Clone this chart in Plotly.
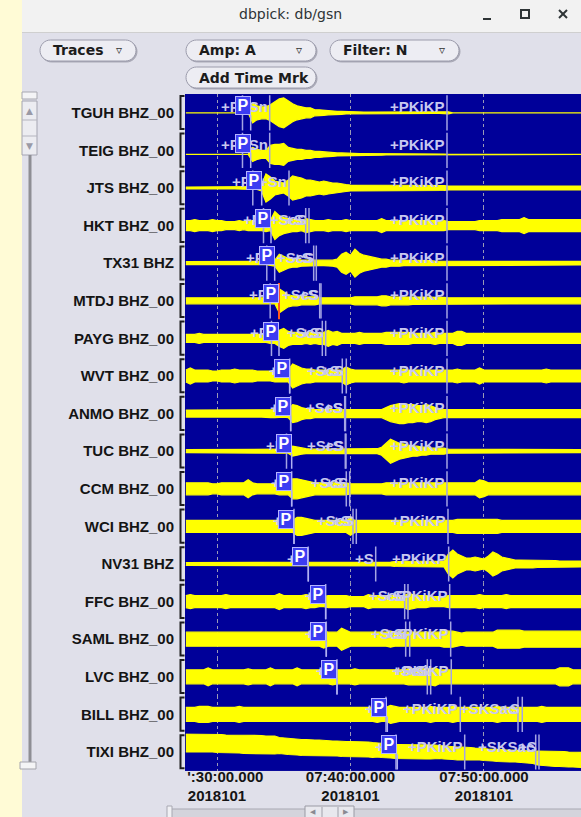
import plotly.graph_objects as go

W, H = 581, 817

# ---------------- data ----------------
STATIONS = ["TGUH BHZ_00", "TEIG BHZ_00", "JTS BHZ_00", "HKT BHZ_00", "TX31 BHZ",
            "MTDJ BHZ_00", "PAYG BHZ_00", "WVT BHZ_00", "ANMO BHZ_00", "TUC BHZ_00",
            "CCM BHZ_00", "WCI BHZ_00", "NV31 BHZ", "FFC BHZ_00", "SAML BHZ_00",
            "LVC BHZ_00", "BILL BHZ_00", "TIXI BHZ_00"]

# time in seconds after 07:30:00 (day 2018101); envelope samples every 20 s
SAMPLE_T0 = -140
SAMPLE_DT = 20

AMP_TGUH = [0,0,0,0,0,0,0,0,0,0, 0,0,0,0,0,10,7,6,6,8, 11,14,15,12,9,7,6,5,5,3,
            3,2.5,2,2,1.5,1.5,1.2,1,0.7,0.7, 0.7,0.7,0.7,0.7,0.7,0.5,0.5,0.5,0.5,0.5,
            0.5,0.5,0.5,0.5,0.5,0.5,0.5,0.5,0.5,1, 0,0,0,0,0,0,0,0,0,0,
            0,0,0,0,0,0,0,0,0,0, 0,0,0,0,0,0,0,0,0,0]
AMP_TEIG = [0,0,0,0,0,0,0,0,0,0, 0,0,0,0,0,7,5,4,4,9, 10,10,11,7,6,5,5,4,4,3,
            3,2.5,2,2,1.5,1.5,1.2,1,0.8,0.8, 0.8,0.8,0.8,0.8,0.8,0.6,0.6,0.6,0.6,0.6,
            0.6,0.6,0.6,0.4,0.4,0.4,0.4,0.4,0.4,0, 0,0,0,0,0,0,0,0,0,0,
            0,0,0,0,0,0,0,0,0,0, 0,0,0,0,0,0,0,0,0,0]
AMP_JTS = [1,1,1,1,1,1,1,1,1,1, 1,1,1,1.2,1.2,1.5,1.5,3,14,11, 7,6,5,8,12,11,10,8,8,7,
           6,7,6,5,5,4,3.5,3,3,2.5, 3,2.5,3,2.5,3,3,2.5,3,2.5,3,
           2.5,3,2.5,3,2.5,2.5,3,2.5,2.5,2, 2,2,2,1.5,2,2,2,1.5,2,2,
           2,1.5,2,2,2,1.5,2,2,2,2, 1.5,2,2,2,1.5,2,2,2,2,2]
AMP_HKT = [5,5,6,5,5,5,6,5,5,4, 4,4,5,4,5,5,5,5,6,5, 14,10,8,7,6,6,5,7,6,5,
           5,5,6,5,5,5,6,5,5,5, 5,5,5,5,7,5,5,5,5,5, 5,5,5,5,5,5,5,5,5,4,
           4,4,4,4,4,4,5,5,5,5, 5,6,6,6,6,6,8,6,6,6, 6,6,6,6,6,6,6,6,6,6]
AMP_TX31 = [1.5,1.5,1.5,1.5,1.5,1.5,1.5,1.5,1.5,1.5, 1.5,1.5,1.5,1.5,1.5,1.5,1.5,1.5,1.5,2,
            3,9,7,5,4,4,3,3,3,2.5, 2.5,2.5,2.5,3,4,9,11,8,14,10,
            8,7,6,5,4,4,3,3,3,2.5, 2.5,2.5,2.5,2.5,2.5,2.5,2,2,2,2,
            2,2,2,2,2,2,2,2,2,2, 1.8,1.8,1.8,1.8,1.8,1.8,1.8,1.8,1.8,1.8,
            1.8,1.8,1.8,1.8,1.8,1.8,1.8,1.8,1.8,1.8]
AMP_MTDJ = [3,3,2.5,3,3,3,2.5,3,3,3, 3,3,3,2.5,3,3,3,3,3,3, 3,12,9,6,5,5,4,4,4,4,
            3,3,3,3,3,3,3,3,4,4, 4,4,4,4,5,5,4,4,4,4, 4,3.5,3.5,3.5,3.5,3.5,3.5,3.5,3.5,3,
            3,3,3,3,3,3,3,3,3,3, 3,3,3,3,3,3,3,3,3,3, 3,3,3,3,3,3,3,3,3,3]
AMP_PAYG = [4,4,4,5,4,4,4,4,4,4, 4,4,4,4,4,4,4,4,4,5, 5,8,10,7,6,6,6,5,6,5,
            6,6,8,6,7,5,5,5,5,6, 5,5,5,5,5,6,6,6,6,6, 6,5,5,5,5,5,6,5,5,5,
            5,7,7,5,5,5,5,5,5,5, 5,5,5,5,5,5,5,5,5,5, 5,5,5,5,5,5,5,5,5,5]
AMP_WVT = [6,8,6,6,6,6,5,5,6,6, 6,7,6,6,6,6,5,5,5,5, 6,6,6,6,12,10,8,7,7,6,
           6,6,6,6,6,6,9,7,6,6, 6,6,6,6,6,6,6,6,6,7, 6,6,6,6,6,6,6,6,6,6,
           6,7,6,6,6,6,8,6,6,6, 6,6,6,6,6,6,6,6,6,6, 6,7,6,6,6,6,6,6,6,6]
AMP_ANMO = [3.5,3.5,3.5,3.5,3.5,3.5,3.5,3.5,3.5,3.5, 3.5,3.5,3.5,3.5,3.5,3.5,3.5,3.5,3.5,4,
            4,4,3.5,4,9,8,6,5,5,4, 4,4,4,4,4,4,4,4,4,4, 4,4,4,4,4,6,8,9,10,10,
            9,9,8,8,9,8,6,5,4,4, 4,4,4,4,4,4,4,4,4,4, 4,4,4,4,4,4,4,4,4,4,
            4,4,4,4,4,4,4,4,4,4]
AMP_TUC = [1.5,1.5,1.5,1.5,1.5,1.5,1.5,1.5,1.5,1.5, 1.5,1.5,1.5,1.5,1.5,1.5,1.5,1.5,1.5,1.5,
           1.5,1.5,2,2,5,4,3,2.5,2,2, 2,2,2,2,2,2,2,2.5,2.5,2.5,
           2.5,2.5,2.5,2.5,4,8,12,10,8,7, 6,5,5,4,4,3,3,3,3,2,
           2,2,2,2,2,2,2,1.5,1.5,1.5, 1.5,1.5,1.5,1.5,1.5,1.5,1.5,1.5,1.5,1.5,
           1.5,1.5,1.5,1.5,1.5,1.5,1.5,1.5,1.5,1.5]
AMP_CCM = [6,6,6,6,6,6,5,5,6,6, 6,6,6,6,9,6,5,5,5,5, 5,6,6,6,10,10,9,8,7,6,
           6,6,6,6,6,6,6,5,5,5, 5,5,5,5,5,6,6,6,6,6, 6,6,6,6,6,6,6,6,6,6,
           6,6,6,6,6,6,9,8,6,6, 6,6,6,6,6,6,6,6,6,6, 6,6,6,6,6,6,6,6,6,6]
AMP_WCI = [6,6,6,6,6,6,6,6,6,6, 6,6,6,6,6,6,6,6,6,6, 6,6,6,6,6,9,9,8,7,6,
           6,6,6,6,6,6,6,9,6,6, 6,6,6,6,6,6,6,6,6,6, 6,6,6,6,6,6,6,6,6,6,
           6,7,7,7,7,7,7,7,7,7, 7,6,6,6,6,6,6,6,6,6, 6,6,6,6,6,6,6,6,6,6]
AMP_NV31 = [1.5,1.5,1.5,1.5,1.5,1.5,1.5,1.5,1.5,1.5, 1.5,1.5,1.5,1.5,1.5,1.5,1.5,1.5,1.5,1.5,
            1.5,1.5,1.5,1.5,1.5,1.5,1.5,1.5,2,2, 1.5,1.5,1.5,1.5,1.5,1.5,1.5,1.5,1.5,2,
            2,2,2,2,2,2,2,2.5,2.5,2.5, 2.5,2.5,2.5,3,3,3,3,3,3,10,
            14,10,8,6,6,7,6,5,8,12, 10,7,6,5,4,4,4,4,4,3.5,
            3.5,3.5,3.5,3.5,3,3,3,3,3,3]
AMP_FFC = [6,7,6,6,6,6,6,6,6,7, 6,6,6,6,6,6,6,6,6,6, 6,8,6,6,6,6,6,7,6,6,
           5,5,6,6,6,6,6,5,5,5, 5,7,6,6,6,6,6,6,6,6, 8,7,6,6,6,5,5,5,5,6,
           6,6,6,6,6,6,7,6,6,6, 6,6,7,6,6,6,6,6,6,6, 6,6,6,6,6,6,6,6,6,6]
AMP_SAML = [7,7,7,7,7,7,7,7,7,7, 7,7,7,7,7,7,7,7,7,7, 7,7,7,7,7,7,7,7,7,7,
            7,9,7,7,7,11,9,7,7,7, 7,7,7,7,7,7,8,7,7,7, 7,7,7,7,7,7,7,7,8,8,
            8,7,6,7,7,7,7,7,7,7, 9,9,9,9,9,9,8,8,8,8, 8,8,8,8,8,8,8,8,8,8]
AMP_LVC = [7,7,7,7,7,9,7,7,7,7, 7,7,7,7,8,7,7,7,7,9, 7,7,7,7,7,9,7,7,7,7,
           7,7,7,8,7,7,7,7,8,7, 7,7,7,7,7,7,7,7,7,7, 8,8,8,8,8,8,9,7,7,7,
           7,7,7,7,7,7,7,7,7,7, 7,7,7,7,7,7,7,7,7,7, 7,7,7,7,9,9,9,7,7,7]
AMP_BILL = [7,7,7,8,8,8,7,7,7,7, 7,7,8,7,7,7,7,7,7,7, 7,7,7,7,7,7,7,7,7,7,
            7,7,7,7,7,7,7,7,7,7, 7,7,7,8,7,7,9,8,7,7, 7,7,7,7,7,8,7,7,7,7,
            8,7,7,7,7,7,7,7,7,7, 8,7,7,7,7,7,7,7,7,7, 8,7,7,7,7,7,7,7,7,7]
AMP_TIXI = [9,9,9,9,9,9,9,9,9,9, 9,9,9,9,9,9,9,9,9,9, 9,8,8,8,8,8,8,8,8,8,
            8,7.5,7.5,7.5,7.5,7.5,7.5,7.5,7.5,7.5, 7.5,7.5,7.5,7,7,7,7,7,7,7,
            7,7,7,7,7,7,7,6.5,6.5,6.5, 6.5,6.5,6.5,6.5,6.5,6,6,6,6,6,
            6,6,6,6,6,6,6,6,6,7, 7,7.5,7.5,7.5,7.5,7.5,7.5,7.5,7.5,7.5]
# long-period drift of the TIXI trace centre (upwards positive)
TIXI_DRIFT = [9,9,9,9,9,9,9,8.5,8.5,8, 8,8,8,7.5,7.5,7.5,7.5,7.5,7,7,
              7,6.5,6,5.5,5,5,4.5,4.5,4,4, 4,4,3.5,3.5,3.5,3,3,3,3,2.5,
              2.5,2.5,2,2,1.5,1,1,0.5,0.5,0.5, 0,0,0,0,0,0,0,0,-0.5,-1,
              -1,-1.5,-1.5,-1.5,-2,-2,-2,-2.5,-3,-3, -3.5,-3.5,-4,-4,-4,-4.5,-4.5,-5,-5.5,-6,
              -6,-6.5,-6.5,-7,-7,-7,-7.5,-7.5,-7.5,-8]
# constant DC offset of each trace
BASELINE = [0, -4, 0, 0, 0, 0, 0, 0, 0, 0, 0, 0, 0, 0, 0, 0, 0, 0]

AMPS = [AMP_TGUH, AMP_TEIG, AMP_JTS, AMP_HKT, AMP_TX31, AMP_MTDJ, AMP_PAYG, AMP_WVT,
        AMP_ANMO, AMP_TUC, AMP_CCM, AMP_WCI, AMP_NV31, AMP_FFC, AMP_SAML, AMP_LVC,
        AMP_BILL, AMP_TIXI]

# analyst P picks (s after 07:30:00)
PICK_P = [151.5, 151.5, 200.9, 242.7, 259.3, 278.7, 278.7, 326.7, 331.2, 335.7,
          335.7, 346.1, 410.3, 488.5, 491.2, 539.3, 765.4, 810.3]
SELECTED_PICK = "MTDJ BHZ_00"

# theoretical arrivals
PHASE_LABELS = [
    ["+P", "+Sn", "+PKiKP"], ["+P", "+Sn", "+PKiKP"], ["+P", "+Sn", "+PKiKP"],
    ["+P", "+S", "+ScS", "+PKiKP"], ["+P", "+S", "+ScS", "+PKiKP"],
    ["+P", "+S", "+ScS", "+PKiKP"], ["+P", "+S", "+ScS", "+PKiKP"],
    ["+P", "+S", "+ScS", "+PKiKP"], ["+P", "+S", "+ScS", "+PKiKP"],
    ["+P", "+S", "+ScS", "+PKiKP"], ["+P", "+S", "+ScS", "+PKiKP"],
    ["+P", "+S", "+ScS", "+PKiKP"], ["+P", "+S", "+PKiKP"],
    ["+P", "+S", "+ScS", "+PKiKP"], ["+P", "+S", "+ScS", "+PKiKP"],
    ["+P", "+S", "+ScS", "+PKiKP"], ["+P", "+PKiKP", "+SKSac", "+S"],
    ["+P", "+PKiKP", "+SKSac", "+S"]]
PHASE_TIMES = [
    [114.6, 236.9, 1033.7], [114.6, 236.9, 1033.7], [160.9, 323.6, 1033.7],
    [209.0, 398.7, 413.5, 1033.7], [223.8, 434.6, 446.3, 1033.7],
    [239.1, 461.6, 467.4, 1033.7], [244.9, 473.3, 488.5, 1033.7],
    [326.7, 563.1, 581.1, 1033.7], [331.2, 573.9, 577.5, 1033.7],
    [312.4, 576.6, 579.8, 1033.7], [335.7, 581.1, 596.4, 1033.7],
    [346.1, 611.2, 626.1, 1038.2], [410.3, 713.3, 1041.3],
    [488.5, 843.6, 858.4, 1045.8], [491.2, 848.1, 866.1, 1050.3],
    [539.3, 945.2, 960.4, 1053.0], [759.6, 1093.5, 1352.8, 1372.1],
    [804.5, 1113.3, 1432.4, 1447.2]]

TICK_TIMES = [0, 600, 1200]
TICK_TIME_TEXT = ["':30:00.000", "07:40:00.000", "07:50:00.000"]
TICK_DATE_TEXT = ["2018101", "2018101", "2018101"]
X_RANGE = [-143.8, 1636]

BUTTONS = [("Traces", True), ("Amp: A", True), ("Filter: N", True), ("Add Time Mrk", False)]

# ---------------- styling / geometry ----------------
NAVY = "#000099"
YELLOW = "#ffff00"
PHASE_TXT = "#c8c8f0"
PHASE_LINE = "#a4a4e4"
BOX_FILL = "#3c3cf2"
BOX_EDGE = "#b4b4ff"
BODY = "#e0e0ea"
LABEL_FONT = dict(family="Liberation Sans, Arial, sans-serif", size=15, color="#141414", weight="bold")
UI_FONT = dict(family="DejaVu Sans, sans-serif", size=14, color="#1c1c1c", weight="bold")

PLOT_L, PLOT_T, ROW_H = 185, 94, 37.6
HALF = ROW_H / 2


def px(x):
    return x / W


def py(y):
    return 1 - y / H


fig = go.Figure()
n = len(STATIONS)
times = [SAMPLE_T0 + SAMPLE_DT * i for i in range(len(AMP_TGUH))]
annotations = []
shapes = []

# plot-area background (avoids seams between the row panels)
shapes.append(dict(type="rect", xref="paper", yref="paper", x0=px(PLOT_L), x1=1,
                   y0=py(PLOT_T + n * ROW_H), y1=py(PLOT_T), fillcolor=NAVY,
                   line=dict(width=0), layer="below"))

for k, name in enumerate(STATIONS):
    ax = "" if k == 0 else str(k + 1)
    amp = AMPS[k]
    drift = TIXI_DRIFT if name.startswith("TIXI") else [0] * len(amp)
    centre = [BASELINE[k] + d for d in drift]
    up = [c + a for c, a in zip(centre, amp)]
    lo = [c - a for c, a in zip(centre, amp)]
    fig.add_trace(go.Scatter(x=times + times[::-1], y=up + lo[::-1], mode="lines",
                             fill="toself", fillcolor=YELLOW,
                             line=dict(color=YELLOW, width=1.2),
                             xaxis="x" + ax, yaxis="y" + ax,
                             hoverinfo="skip", showlegend=False))
    # theoretical arrival lines
    xs, ys = [], []
    for t in PHASE_TIMES[k]:
        xs += [t, t, None]
        ys += [-HALF + 1.2, HALF - 1.2, None]
    fig.add_trace(go.Scatter(x=xs, y=ys, mode="lines",
                             line=dict(color=PHASE_LINE, width=1.5),
                             xaxis="x" + ax, yaxis="y" + ax,
                             hoverinfo="skip", showlegend=False))
    # pick line under the P box
    tp = PICK_P[k]
    fig.add_trace(go.Scatter(x=[tp, tp], y=[HALF - 2 - 19, -HALF + 1.2], mode="lines",
                             line=dict(color="#b0b0f4", width=1.5),
                             xaxis="x" + ax, yaxis="y" + ax,
                             hoverinfo="skip", showlegend=False))
    if name == SELECTED_PICK:
        fig.add_trace(go.Scatter(x=[tp, tp], y=[HALF - 1, -HALF], mode="lines",
                                 line=dict(color="#ff5a1e", width=2),
                                 xaxis="x" + ax, yaxis="y" + ax,
                                 hoverinfo="skip", showlegend=False))
    # phase labels
    for lab, t in zip(PHASE_LABELS[k], PHASE_TIMES[k]):
        annotations.append(dict(xref="x" + ax, yref="y" + ax, x=t, y=6, text=lab,
                                xanchor="right", yanchor="middle", xshift=-1,
                                showarrow=False, borderpad=0,
                                font=dict(family="Liberation Sans, Arial, sans-serif",
                                          size=15, color=PHASE_TXT, weight="bold")))
    # P pick box
    annotations.append(dict(xref="x" + ax, yref="y" + ax, x=tp, y=HALF - 2, text="P",
                            xanchor="right", yanchor="top", showarrow=False,
                            width=14, height=17, borderpad=0, borderwidth=1,
                            bgcolor=BOX_FILL, bordercolor=BOX_EDGE,
                            font=dict(family="Liberation Sans, Arial, sans-serif",
                                      size=16, color="#ffffff", weight="bold")))
    # bracket at the left of each trace
    top = PLOT_T + k * ROW_H
    shapes.append(dict(type="path", xref="paper", yref="paper",
                       path=f"M {px(184.5)} {py(top + 2)} L {px(180.5)} {py(top + 2)} "
                            f"L {px(180.5)} {py(top + ROW_H - 2.5)} L {px(184.5)} {py(top + ROW_H - 2.5)}",
                       line=dict(color="#1e1e1e", width=2)))

layout = {}
for k, name in enumerate(STATIONS):
    ax = "" if k == 0 else str(k + 1)
    top = PLOT_T + k * ROW_H
    last = k == n - 1
    ticktext = []
    for j, (tt, dd) in enumerate(zip(TICK_TIME_TEXT, TICK_DATE_TEXT)):
        pad = "\u00a0" * 4 if j == 0 else ""
        ticktext.append(pad + tt + "<br>" + dd)
    layout["xaxis" + ax] = dict(domain=[px(PLOT_L), 1], anchor="y" + ax, range=X_RANGE,
                                showgrid=True, gridcolor="#9a9ab6", griddash="dot", gridwidth=1,
                                tickvals=TICK_TIMES, ticktext=ticktext, showticklabels=last,
                                ticks="", zeroline=False, showline=False, fixedrange=True,
                                automargin=False, tickfont=LABEL_FONT, ticklabelstandoff=-5)
    layout["yaxis" + ax] = dict(domain=[py(top + ROW_H), py(top)], anchor="x" + ax,
                                range=[-HALF, HALF], tickvals=[0], ticktext=[name],
                                showgrid=False, zeroline=False, showline=False, ticks="",
                                automargin=False, fixedrange=True, tickfont=LABEL_FONT,
                                ticklabelstandoff=10)

# ---------------- window chrome ----------------
def rect(x0, y0, x1, y1, fill, line=None, lw=1):
    shapes.append(dict(type="rect", xref="paper", yref="paper", x0=px(x0), x1=px(x1),
                       y0=py(y1), y1=py(y0), fillcolor=fill,
                       line=dict(color=line or fill, width=lw if line else 0)))


def seg(x0, y0, x1, y1, color, lw):
    shapes.append(dict(type="line", xref="paper", yref="paper", x0=px(x0), x1=px(x1),
                       y0=py(y0), y1=py(y1), line=dict(color=color, width=lw)))


def pill(x0, y0, x1, y1, fill, edge):
    r = (y1 - y0) / 2
    c = 0.5523 * r
    pts = (f"M {px(x0 + r)} {py(y0)} L {px(x1 - r)} {py(y0)} "
           f"C {px(x1 - r + c)} {py(y0)} {px(x1)} {py(y0 + r - c)} {px(x1)} {py(y0 + r)} "
           f"C {px(x1)} {py(y0 + r + c)} {px(x1 - r + c)} {py(y1)} {px(x1 - r)} {py(y1)} "
           f"L {px(x0 + r)} {py(y1)} "
           f"C {px(x0 + r - c)} {py(y1)} {px(x0)} {py(y0 + r + c)} {px(x0)} {py(y0 + r)} "
           f"C {px(x0)} {py(y0 + r - c)} {px(x0 + r - c)} {py(y0)} {px(x0 + r)} {py(y0)} Z")
    shapes.append(dict(type="path", xref="paper", yref="paper", path=pts,
                       fillcolor=fill, line=dict(color=edge, width=1)))


def text(x, y, s, font, anchor="left"):
    annotations.append(dict(xref="paper", yref="paper", x=px(x), y=py(y), text=s,
                            xanchor=anchor, yanchor="middle", showarrow=False,
                            borderpad=0, font=font))


rect(0, 0, 22, H, "#fffbd6")
rect(22, 0, W, 32, "#f2f2f2")
seg(22, 32.5, W, 32.5, "#cfcfcf", 1)
text(290, 14, "dbpick: db/gsn", dict(family="DejaVu Sans, sans-serif", size=14, color="#2e3436"), "center")
seg(483, 19, 491, 19, "#2e3436", 2)
rect(521, 10, 529, 18, "rgba(0,0,0,0)", "#2e3436", 2)
seg(559, 10, 567, 18, "#2e3436", 2)
seg(559, 18, 567, 10, "#2e3436", 2)

button_boxes = [(40, 40, 136, 61), (186, 40, 316, 61), (330, 40, 459, 61), (186, 67, 316, 88)]
for (label, has_menu), (x0, y0, x1, y1) in zip(BUTTONS, button_boxes):
    pill(x0 + 1, y0 + 1, x1 + 1, y1 + 1, "#a9a9b6", "#a9a9b6")
    pill(x0, y0, x1, y1, "#ededf3", "#9c9cac")
    text(x0 + 12, (y0 + y1) / 2, label, UI_FONT)
    if has_menu:
        text(x1 - 17, (y0 + y1) / 2, "\u25bf", dict(family="DejaVu Sans, sans-serif", size=12, color="#303030"), "center")

# left (vertical) scroll bar
rect(22, 92, 37, 99, "#f4f4f6", "#a8a8b0")
rect(22, 101, 37, 155, "#ececf1", "#a4a4b0")
seg(22, 120, 37, 120, "#b4b4be", 1)
seg(22, 136, 37, 136, "#b4b4be", 1)
text(29.5, 110.5, "\u25b2", dict(family="DejaVu Sans, sans-serif", size=9, color="#9a9aa6"), "center")
text(29.5, 145.5, "\u25bc", dict(family="DejaVu Sans, sans-serif", size=9, color="#9a9aa6"), "center")
rect(28.5, 155, 31.5, 762, "#8e8e94")
rect(20, 762, 36, 769, "#f4f4f6", "#a4a4ac")

# bottom (horizontal) scroll bar
rect(171, 809, W + 2, 818, "#d4d4dc", "#a8a8b2")
rect(167, 806, 172, 818, "#f0f0f4", "#a8a8b2")
rect(305, 806, 354, 818, "#e8e8ee", "#9a9aa4")
seg(322, 807, 322, 817, "#a0a0aa", 1)
seg(338, 807, 338, 817, "#a0a0aa", 1)
text(313, 811.5, "\u25c0", dict(family="DejaVu Sans, sans-serif", size=7, color="#8a8a92"), "center")
text(346, 811.5, "\u25b6", dict(family="DejaVu Sans, sans-serif", size=7, color="#8a8a92"), "center")

fig.update_layout(width=W, height=H, margin=dict(l=0, r=0, t=0, b=0, autoexpand=False),
                  paper_bgcolor=BODY, plot_bgcolor=NAVY, showlegend=False,
                  shapes=shapes, annotations=annotations, **layout)

fig.write_html("out.html", config={"displayModeBar": False},
               post_script="document.body.style.margin='0px';"
                           "document.body.style.overflow='hidden';")
